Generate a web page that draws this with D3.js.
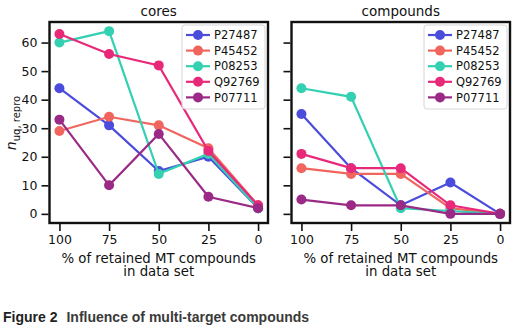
<!DOCTYPE html>
<html>
<head>
<meta charset="utf-8">
<style>
  body { margin: 0; background: #fff; }
  svg { display: block; }
  .tick text { font-family: "DejaVu Sans", sans-serif; font-size: 12.5px; fill: #111; }
  .panel-title, .xlab, .ylab { font-family: "DejaVu Sans", sans-serif; fill: #111; }
  .legend text { font-family: "DejaVu Sans", sans-serif; font-size: 11.5px; fill: #111; }
  .caption { font-family: "Liberation Sans", Arial, sans-serif; font-weight: bold; font-size: 14px; }
</style>
</head>
<body>
<svg width="518" height="335"></svg>
<script src="https://cdnjs.cloudflare.com/ajax/libs/d3/7.8.5/d3.min.js"></script>
<script>

// retained multi-target share (%), plotted right to left
var retained = [100, 75, 50, 25, 0];
var targets = ["P27487", "P45452", "P08253", "Q92769", "P07711"];
var colors = ["#4b4bdc", "#f0665f", "#33d0b2", "#e8297a", "#9a2a86"];

// n_uq,repro per target, one row per target
var coresValues = [
  [44, 31, 15, 20, 2],
  [29, 34, 31, 23, 3],
  [60, 64, 14, 21, 2],
  [63, 56, 52, 22, 3],
  [33, 10, 28, 6, 2]
];
var compoundsValues = [
  [35, 16, 3, 11, 0],
  [16, 14, 14, 2, 0],
  [44, 41, 2, 1, 0],
  [21, 16, 16, 3, 0],
  [5, 3, 3, 0, 0]
];
var yTicks = [0, 10, 20, 30, 40, 50, 60];

var svg = d3.select("svg");

var plotTop = 22, plotBottom = 223;
var y = d3.scaleLinear().domain([-3.2, 67.2]).range([plotBottom, plotTop]);

var panels = [
  {title: "cores", values: coresValues, left: 49.5, right: 268, labels: true},
  {title: "compounds", values: compoundsValues, left: 291.5, right: 510, labels: false}
];

panels.forEach(function(p) {
  var x = d3.scaleLinear().domain([105, -5]).range([p.left, p.right]);
  var g = svg.append("g");

  // series: lines with dot markers
  p.values.forEach(function(vals, i) {
    var pts = vals.map(function(v, j) { return [retained[j], v]; });
    g.append("path")
      .datum(pts)
      .attr("fill", "none")
      .attr("stroke", colors[i])
      .attr("stroke-width", 2.2)
      .attr("d", d3.line().x(function(d) { return x(d[0]); }).y(function(d) { return y(d[1]); }));
    g.selectAll(null)
      .data(pts)
      .enter().append("circle")
        .attr("cx", function(d) { return x(d[0]); })
        .attr("cy", function(d) { return y(d[1]); })
        .attr("r", 5)
        .attr("fill", colors[i]);
  });

  // axes
  var xa = g.append("g")
    .attr("transform", "translate(0," + (plotBottom + 1) + ")")
    .call(d3.axisBottom(x).tickValues(retained).tickSize(7).tickPadding(4));
  var ya = g.append("g")
    .attr("transform", "translate(" + (p.left - 1) + ",0)")
    .call(d3.axisLeft(y).tickValues(yTicks).tickSize(7).tickPadding(4)
      .tickFormat(p.labels ? d3.format("d") : function() { return ""; }));
  [xa, ya].forEach(function(a) {
    a.select(".domain").remove();
    a.selectAll(".tick line").attr("stroke", "#111").attr("stroke-width", 1.6);
  });

  // frame
  g.append("rect")
    .attr("x", p.left).attr("y", plotTop)
    .attr("width", p.right - p.left).attr("height", plotBottom - plotTop)
    .attr("fill", "none").attr("stroke", "#111").attr("stroke-width", 2.4);

  g.append("text")
    .attr("class", "panel-title")
    .attr("x", (p.left + p.right) / 2).attr("y", 16)
    .attr("text-anchor", "middle")
    .style("font-size", "13.5px")
    .text(p.title);

  var cx = (p.left + p.right) / 2;
  var xl = g.append("text")
    .attr("class", "xlab")
    .attr("text-anchor", "middle")
    .style("font-size", "13.3px");
  xl.append("tspan").attr("x", cx).attr("y", 262.5).text("% of retained MT compounds");
  xl.append("tspan").attr("x", cx).attr("y", 276).text("in data set");

  // legend
  var lx = p.right - 86, ly = 25;
  var lg = g.append("g").attr("class", "legend").attr("transform", "translate(" + lx + "," + ly + ")");
  lg.append("rect")
    .attr("width", 83).attr("height", 84).attr("rx", 3)
    .attr("fill", "rgba(255,255,255,0.85)").attr("stroke", "#d6d6d6").attr("stroke-width", 1);
  targets.forEach(function(t, i) {
    var ry = 10 + i * 15.6;
    lg.append("line").attr("x1", 4).attr("x2", 28).attr("y1", ry).attr("y2", ry)
      .attr("stroke", colors[i]).attr("stroke-width", 2.2);
    lg.append("circle").attr("cx", 16).attr("cy", ry).attr("r", 5).attr("fill", colors[i]);
    lg.append("text").attr("x", 32).attr("y", ry + 4.2).text(t);
  });
});

// y axis label: n with subscript
var yl = svg.append("text")
  .attr("class", "ylab")
  .attr("transform", "translate(16,123) rotate(-90)")
  .attr("text-anchor", "middle")
  .style("font-size", "14px");
yl.append("tspan").style("font-style", "italic").text("n");
yl.append("tspan").attr("dy", 4).style("font-size", "10px").text("uq, repro");

// figure caption
var cap = svg.append("text").attr("class", "caption").attr("x", 3).attr("y", 322);
cap.append("tspan").attr("fill", "#222").text("Figure 2");
cap.append("tspan").attr("dx", 9).attr("fill", "#3a3a3a").text("Influence of multi-target compounds");

</script>
</body>
</html>
